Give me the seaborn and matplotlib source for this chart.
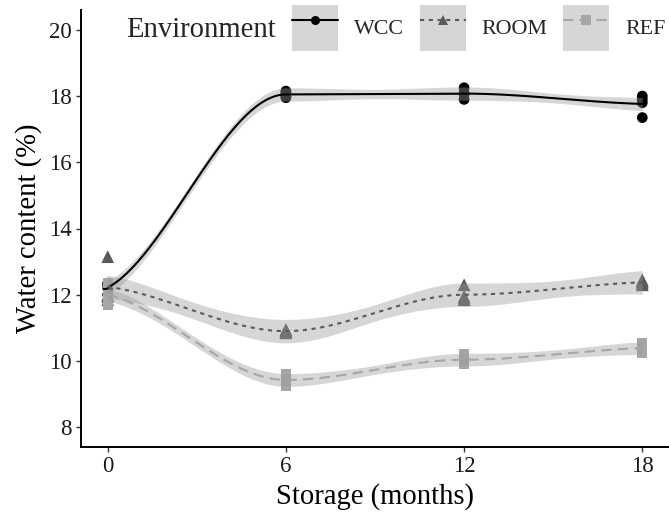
import numpy as np
import pandas as pd
import matplotlib
matplotlib.use("Agg")
import matplotlib.pyplot as plt
import seaborn as sns
from math import lgamma, pi, sqrt, exp
from matplotlib.patches import Patch
from matplotlib.lines import Line2D

# ---------------- data ----------------
months = [0, 0, 0, 0, 6, 6, 6, 6, 12, 12, 12, 12, 18, 18, 18, 18]
wcc = [12.0, 12.3, 12.2, 12.35, 18.1, 17.95, 18.15, 18.0,
       18.25, 18.1, 17.9, 18.05, 18.0, 17.9, 17.35, 17.8]
room = [13.15, 11.95, 11.85, 12.0, 10.9, 10.95, 10.85, 10.9,
        12.3, 11.95, 11.85, 11.9, 12.4, 12.35, 12.45, 12.3]
ref = [12.35, 11.7, 11.95, 12.0, 9.6, 9.25, 9.45, 9.4,
       10.2, 9.9, 10.05, 10.0, 10.55, 10.25, 10.4, 10.35]
environments = ["WCC", "ROOM", "REF"]
x_ticks = [0, 6, 12, 18]
y_ticks = [8, 10, 12, 14, 16, 18, 20]

colors = {"WCC": "#000000", "ROOM": "#5a5a5a", "REF": "#a6a6a6"}
markers = {"WCC": "o", "ROOM": "^", "REF": "s"}
msizes = {"WCC": 60, "ROOM": 85, "REF": 55}
dashes = {"WCC": "", "ROOM": (2, 2.2), "REF": (5, 3)}
lstyles = {"WCC": "-", "ROOM": (0, (2, 2.2)), "REF": (0, (5, 3))}

df = pd.DataFrame({
    "Storage": months * 3,
    "Water": wcc + room + ref,
    "Environment": [e for e in environments for _ in months],
})


# ---------------- loess (local quadratic, span 0.75, vertex + cubic Hermite) ----------------
def loess_operator(x, xe, span=0.75):
    x = np.asarray(x, float)
    n = len(x)
    q = int(np.floor(n * span))
    verts = np.unique(x)
    vals, slopes = [], []
    for v in verts:
        d = np.abs(x - v)
        rho = np.sort(d)[q - 1]
        w = np.where(d < rho, (1 - (d / rho) ** 3) ** 3, 0.0)
        sw = np.sqrt(w)
        dx = x - v
        X = np.column_stack([np.ones(n), dx, dx ** 2]) * sw[:, None]
        nrm = np.linalg.norm(X, axis=0)
        nrm = np.where(nrm > 0, nrm, 1.0)
        P = np.linalg.pinv(X / nrm, rcond=1e-10)
        B = P / nrm[:, None] * sw[None, :]
        vals.append(B[0])
        slopes.append(B[1])
    vals = np.array(vals)
    slopes = np.array(slopes)
    xe = np.asarray(xe, float)
    L = np.zeros((len(xe), n))
    for i, xv in enumerate(xe):
        j = int(np.clip(np.searchsorted(verts, xv, side="right") - 1, 0, len(verts) - 2))
        h = verts[j + 1] - verts[j]
        t = (xv - verts[j]) / h
        h00 = 2 * t ** 3 - 3 * t ** 2 + 1
        h10 = t ** 3 - 2 * t ** 2 + t
        h01 = -2 * t ** 3 + 3 * t ** 2
        h11 = t ** 3 - t ** 2
        L[i] = h00 * vals[j] + h10 * h * slopes[j] + h01 * vals[j + 1] + h11 * h * slopes[j + 1]
    return L


def t_quantile(p, dfree):
    xs = np.linspace(0, 40, 400001)
    c = exp(lgamma((dfree + 1) / 2) - lgamma(dfree / 2)) / sqrt(dfree * pi)
    pdf = c * (1 + xs ** 2 / dfree) ** (-(dfree + 1) / 2)
    cdf = 0.5 + np.concatenate([[0], np.cumsum((pdf[1:] + pdf[:-1]) / 2 * np.diff(xs))])
    return float(np.interp(p, cdf, xs))


smooth_rows = []
for env in environments:
    sub = df[df["Environment"] == env]
    x = sub["Storage"].to_numpy(float)
    y = sub["Water"].to_numpy(float)
    grid = np.linspace(x.min(), x.max(), 200)
    Lg = loess_operator(x, grid)
    Ld = loess_operator(x, x)
    IL = np.eye(len(x)) - Ld
    M = IL.T @ IL
    d1 = np.trace(M)
    d2 = np.trace(M @ M)
    res = y - Ld @ y
    s = np.sqrt(np.sum(res ** 2) / d1)
    fit = Lg @ y
    se = s * np.sqrt(np.sum(Lg ** 2, axis=1))
    tq = t_quantile(0.975, d1 ** 2 / d2)
    for g, f, e in zip(grid, fit, se):
        smooth_rows.append({"Storage": g, "Water": f, "lo": f - tq * e, "hi": f + tq * e,
                            "Environment": env})
sm = pd.DataFrame(smooth_rows)

# ---------------- plot ----------------
sns.set_style("ticks")
plt.rcParams["font.family"] = ["Liberation Serif", "DejaVu Serif"]

fig = plt.figure(figsize=(6.69, 5.16), dpi=100)
ax = fig.add_axes([81 / 669, 69 / 516, 588 / 669, 437 / 516])

sns.scatterplot(data=df, x="Storage", y="Water", hue="Environment", style="Environment",
                size="Environment", palette=colors, markers=markers, sizes=msizes,
                linewidth=0, legend=False, ax=ax, zorder=2)

for env in environments:
    s_ = sm[sm["Environment"] == env]
    ax.fill_between(s_["Storage"], s_["lo"], s_["hi"], color="#999999", alpha=0.4,
                    linewidth=0, zorder=3)

sns.lineplot(data=sm, x="Storage", y="Water", hue="Environment", style="Environment",
             palette=colors, dashes=dashes, linewidth=1.5, legend=False, ax=ax,
             estimator=None, sort=False, zorder=4)

ax.set_xlim(-0.9, 18.9)
ax.set_ylim(7.4, 20.6)
ax.set_xticks(x_ticks)
ax.set_yticks(y_ticks)
ax.set_xticklabels([str(v) for v in x_ticks])
ax.set_yticklabels([str(v) for v in y_ticks])
for sp in ["top", "right"]:
    ax.spines[sp].set_visible(False)
for sp in ["left", "bottom"]:
    ax.spines[sp].set_linewidth(1.4)
    ax.spines[sp].set_color("black")
ax.tick_params(axis="both", length=3.5, width=1.0, color="#333333", labelsize=16.5,
               labelcolor="#1a1a1a", pad=3)

ax.set_xlabel("Storage (months)", fontsize=20.6, color="black")
ax.set_ylabel("Water content (%)", fontsize=20.6, color="black")
ax.xaxis.label.set_va("center")
ax.xaxis.set_label_coords(0.5, -0.1144)
ax.yaxis.label.set_va("center")
ax.yaxis.set_label_coords(-0.09, 0.5)

# legend
handles = []
for env in environments:
    handles.append((Patch(facecolor="#999999", alpha=0.4, edgecolor="none"),
                    Line2D([], [], color=colors[env], linestyle=lstyles[env], linewidth=1.5,
                           marker=markers[env], markersize=6.5, markeredgewidth=0)))
leg = fig.legend(handles, environments, loc="center left",
                 bbox_to_anchor=(292 / 669, 1 - 28 / 516), ncol=3, frameon=False,
                 fontsize=15.8, handlelength=2.1, handleheight=2.9, handletextpad=0.72,
                 columnspacing=0.72, borderpad=0, borderaxespad=0)
fig.text(126 / 669, 1 - 30 / 516, "Environment", fontsize=20.6, va="center", ha="left")

fig.savefig("out.png", dpi=100)
